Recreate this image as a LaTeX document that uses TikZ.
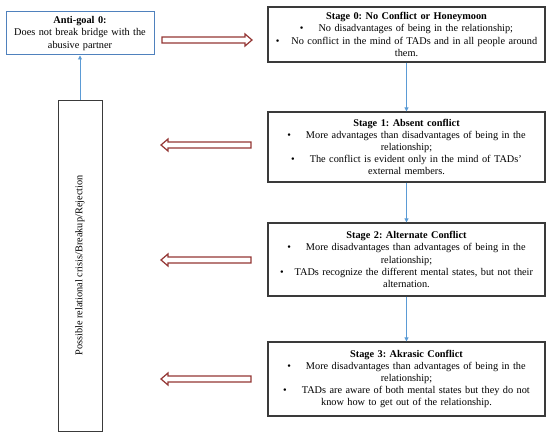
\documentclass[tikz,border=0pt]{standalone}
\usepackage{fontspec}
\setmainfont{Liberation Serif}
\usetikzlibrary{arrows.meta,calc}
\definecolor{agblue}{HTML}{4F81BD}
\definecolor{lnblue}{HTML}{5B9BD5}
\definecolor{arred}{HTML}{943634}
\definecolor{bxgray}{HTML}{3A3A3A}
\frenchspacing
\begin{document}
\begin{tikzpicture}[x=1pt,y=-1pt,
  every node/.style={font=\fontsize{10.3}{12.2}\selectfont},
  stagebox/.style={draw=bxgray,line width=1.2pt,fill=white,minimum width=277pt,text width=277pt,align=center,inner sep=0pt},
  antibox/.style={draw=agblue,line width=1pt,minimum width=148pt,minimum height=43pt,text width=148pt,align=center,inner sep=0pt},
  tallbox/.style={draw=bxgray,line width=0.9pt,minimum width=44pt,minimum height=331pt,inner sep=0pt},
  blueline/.style={draw=lnblue,line width=0.9pt,-{Triangle[length=4pt,width=4pt]}},
  hollow/.style={draw=arred,line width=1.2pt,fill=white,line join=miter}
]
\useasboundingbox (0,0) rectangle (550,436);

\node[antibox] (anti) at (80,33.5) {\textbf{Anti-goal 0:}\\Does not break bridge with the\\abusive partner};

\node[tallbox] (tall) at (80,265.5) {};
\node[rotate=90] (talltext) at (tall.center) {Possible relational crisis/Breakup/Rejection};

\node[stagebox,minimum height=55pt] (s0) at (406.5,34.5) {\textbf{Stage 0: No Conflict or Honeymoon}\\
\textbullet\hspace{15pt}No disadvantages of being in the relationship;\\
\textbullet\hspace{12pt}No conflict in the mind of TADs and in all people around\\
them.};

\node[stagebox,minimum height=70pt] (s1) at (406.5,147) {\textbf{Stage 1: Absent conflict}\\
\textbullet\hspace{15pt}More advantages than disadvantages of being in the\\
relationship;\\
\textbullet\hspace{15pt}The conflict is evident only in the mind of TADs'\\
external members.};

\node[stagebox,minimum height=73pt] (s2) at (406.5,259.5) {\textbf{Stage 2: Alternate Conflict}\\
\textbullet\hspace{15pt}More disadvantages than advantages of being in the\\
relationship;\\
\textbullet\hspace{11pt}TADs recognize the different mental states, but not their\\
alternation.};

\node[stagebox,minimum height=74pt] (s3) at (406.5,379) {\textbf{Stage 3: Akrasic Conflict}\\
\textbullet\hspace{15pt}More disadvantages than advantages of being in the\\
relationship;\\
\textbullet\hspace{15pt}TADs are aware of both mental states but they do not\\
know how to get out of the relationship.};

% blue connectors
\draw[blueline] (s0.south) -- (s1.north);
\draw[blueline] (s1.south) -- (s2.north);
\draw[blueline] (s2.south) -- (s3.north);
\draw[blueline] (tall.north) -- (anti.south);

% hollow red arrows
\coordinate (r0) at (162,40);
\coordinate (r1) at (251,145);
\coordinate (r2) at (251,260);
\coordinate (r3) at (251,379);
\draw[hollow] (r0) ++(0,-3) -- ++(83,0) -- ++(0,-3) -- ++(7,6) -- ++(-7,6) -- ++(0,-3) -- ++(-83,0) -- cycle;
\foreach \r in {r1,r2,r3}{
  \draw[hollow] (\r) ++(0,-3) -- ++(-83,0) -- ++(0,-3) -- ++(-7,6) -- ++(7,6) -- ++(0,-3) -- ++(83,0) -- cycle;
}
\end{tikzpicture}
\end{document}
